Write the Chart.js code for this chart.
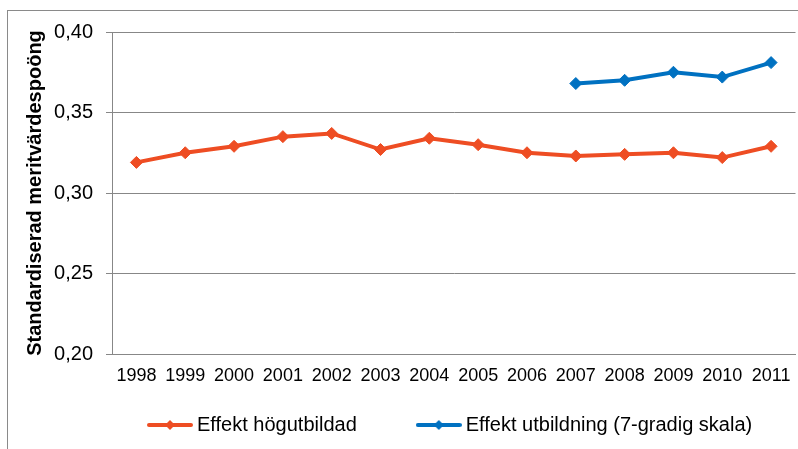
<!DOCTYPE html>
<html>
<head>
<meta charset="utf-8">
<script src="https://cdn.jsdelivr.net/npm/chart.js@4"></script>
<style>
  html, body { margin: 0; padding: 0; background: #fff; }
  body { width: 798px; height: 449px; position: relative; overflow: hidden; }
  #wrap { position: absolute; left: 0; top: 0; width: 798px; height: 449px; }
  .frame { position: absolute; left: 7px; top: 10px; width: 820px; height: 470px; border: 1px solid #8a8a8a; box-sizing: border-box; pointer-events: none; }
</style>
</head>
<body>
<div id="wrap"><canvas id="chart"></canvas></div>
<div class="frame"></div>
<script>
// Data
const years = ["1998", "1999", "2000", "2001", "2002", "2003", "2004", "2005", "2006", "2007", "2008", "2009", "2010", "2011"];
const hogutbildad = [0.319, 0.325, 0.329, 0.335, 0.337, 0.327, 0.334, 0.330, 0.325, 0.323, 0.324, 0.325, 0.322, 0.329];
const utbildning7 = [null, null, null, null, null, null, null, null, null, 0.368, 0.370, 0.375, 0.372, 0.381];
const yTicks = [0.20, 0.25, 0.30, 0.35, 0.40];

const RED = "#EE4D23";
const BLUE = "#0071C1";
const GRID = "#878787";
const FONT = "'Liberation Sans', Arial, sans-serif";

// legend marker: line with a small diamond
const makeMarker = (color) => {
  const c = document.createElement("canvas");
  c.width = 46;
  c.height = 12;
  const ctx = c.getContext("2d");
  ctx.strokeStyle = color;
  ctx.lineWidth = 4;
  ctx.lineCap = "round";
  ctx.beginPath();
  ctx.moveTo(2, 6);
  ctx.lineTo(44, 6);
  ctx.stroke();
  ctx.fillStyle = color;
  ctx.beginPath();
  ctx.moveTo(23, 1);
  ctx.lineTo(28, 6);
  ctx.lineTo(23, 11);
  ctx.lineTo(18, 6);
  ctx.closePath();
  ctx.fill();
  return c;
};

const LEGEND_FONT = 20;
const LEGEND_GAP = 65;
const LEGEND_X = 153;
const LEGEND_Y = 425;

// move the legend to where it sits in the reference
const legendPlace = {
  id: "legendPlace",
  afterLayout(chart) {
    const lg = chart.legend;
    if (!lg || !lg.lineWidths) return;
    lg.left = 0;
    lg.right = 2 * LEGEND_X - LEGEND_GAP + lg.lineWidths[0];
    lg.top = LEGEND_Y - LEGEND_GAP - LEGEND_FONT / 2;
    lg.bottom = chart.height;
    lg.height = lg.bottom - lg.top;
  },
};

const ctx = document.getElementById("chart");
new Chart(ctx, {
  type: "line",
  data: {
    labels: years,
    datasets: [
      {
        label: "Effekt högutbildad",
        data: hogutbildad,
        borderColor: RED,
        backgroundColor: RED,
        borderWidth: 4,
        pointStyle: "rectRot",
        pointRadius: 6,
        pointBorderWidth: 1,
        tension: 0,
      },
      {
        label: "Effekt utbildning (7-gradig skala)",
        data: utbildning7,
        borderColor: BLUE,
        backgroundColor: BLUE,
        borderWidth: 4,
        pointStyle: "rectRot",
        pointRadius: 6,
        pointBorderWidth: 1,
        tension: 0,
      },
    ],
  },
  options: {
    responsive: true,
    maintainAspectRatio: false,
    animation: false,
    layout: { autoPadding: false, padding: { top: 32, right: 2.5, left: 0, bottom: 0 } },
    plugins: {
      tooltip: { enabled: false },
      legend: {
        position: "bottom",
        maxHeight: 30,
        labels: {
          usePointStyle: true,
          pointStyleWidth: 34,
          padding: LEGEND_GAP,
          color: "#000",
          font: { family: FONT, size: LEGEND_FONT },
          generateLabels: (chart) =>
            chart.data.datasets.map((ds, i) => ({
              text: ds.label,
              datasetIndex: i,
              fillStyle: ds.borderColor,
              strokeStyle: ds.borderColor,
              lineWidth: 0,
              pointStyle: makeMarker(ds.borderColor),
              hidden: false,
            })),
        },
      },
    },
    scales: {
      x: {
        offset: true,
        // no grid drawn, tickLength only pushes the labels down
        grid: { display: false, drawTicks: true, tickLength: 11, offset: true },
        border: { display: true, color: GRID, width: 1 },
        ticks: {
          color: "#000",
          padding: 0,
          maxRotation: 0,
          autoSkip: false,
          font: { family: FONT, size: 18 },
        },
        afterFit: (scale) => {
          scale.height = 65;
        },
      },
      y: {
        min: 0.2,
        max: 0.4,
        afterBuildTicks: (scale) => {
          scale.ticks = yTicks.map((v) => ({ value: v }));
        },
        grid: { color: GRID, lineWidth: 1, tickLength: 6 },
        border: { display: true, color: GRID, width: 1 },
        ticks: {
          color: "#000",
          padding: 13,
          font: { family: FONT, size: 20 },
          callback: (v) => v.toFixed(2).replace(".", ","),
        },
        title: {
          display: true,
          text: "Standardiserad meritvärdespoöng",
          color: "#000",
          padding: { top: 23, bottom: 0 },
          font: { family: FONT, size: 20, weight: "bold" },
        },
        afterFit: (scale) => {
          scale.width = 112;
        },
      },
    },
  },
  plugins: [legendPlace],
});
</script>
</body>
</html>
